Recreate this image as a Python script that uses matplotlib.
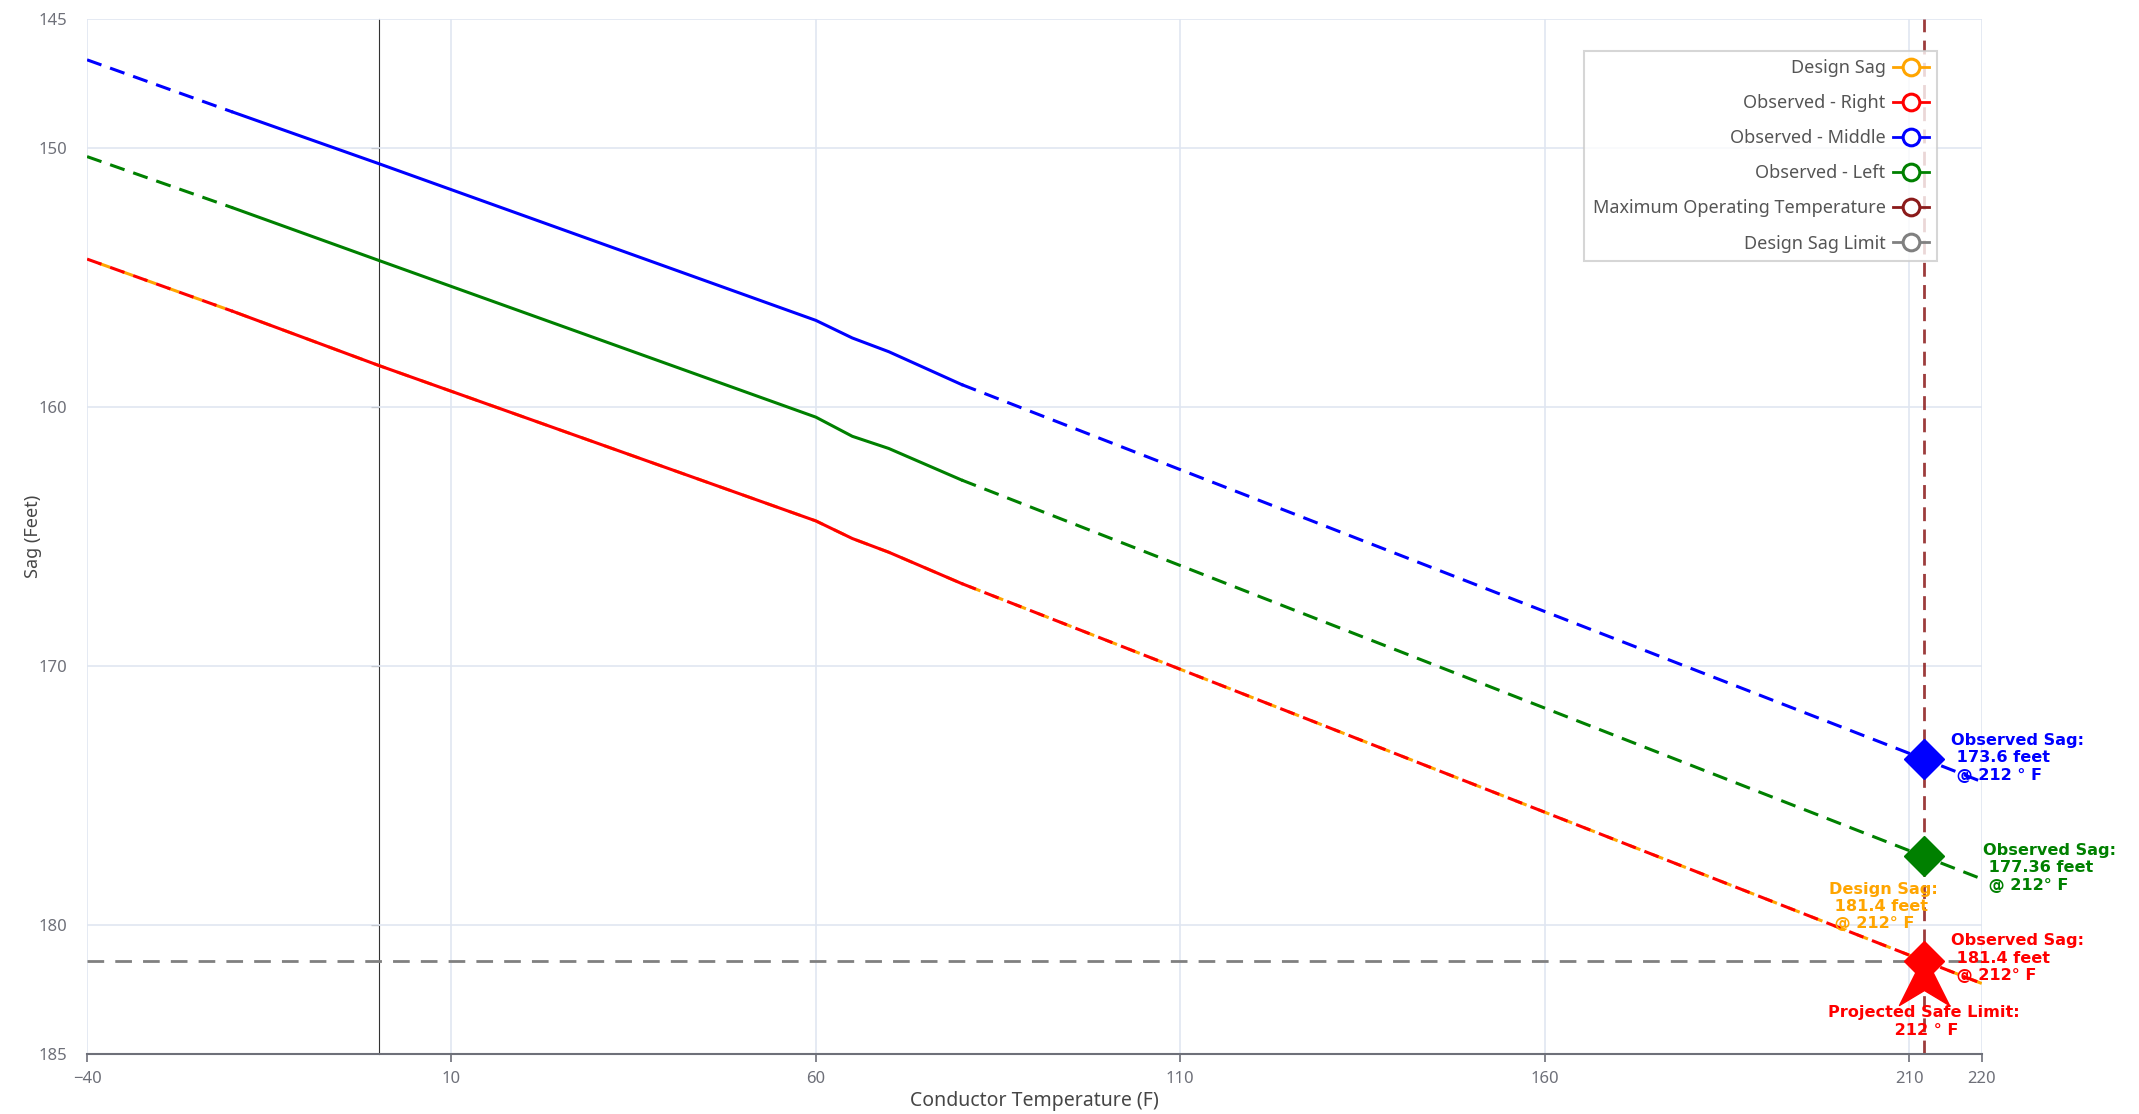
"""Conductor sag vs temperature with observed spans projected to max operating temperature."""

import matplotlib
matplotlib.use("Agg")
import matplotlib.pyplot as plt
from matplotlib.lines import Line2D
from matplotlib.path import Path

plt.rcParams["font.family"] = ["Noto Sans", "DejaVu Sans"]

# observed (solid) section
obs_temps = [-20, 0, 60, 65, 70, 80]
obs_left = [152.3, 154.33, 160.39, 161.13, 161.6, 162.82]
obs_middle = [148.6, 150.59, 156.65, 157.33, 157.86, 159.13]
obs_right = [156.3, 158.39, 164.40, 165.08, 165.61, 166.82]

# projections (dashed) below and above the observed range
low_temps = [-40, -20]
low_left = [150.32, 152.3]
low_middle = [146.58, 148.6]
low_right = [154.28, 156.3]

high_temps = [80, 212, 220]
high_left = [162.82, 177.36, 178.24]
high_middle = [159.13, 173.6, 174.48]
high_right = [166.82, 181.4, 182.28]

design_temps = [-40, -20, 0, 60, 65, 70, 80, 212, 220]
design_sag = [154.28, 156.3, 158.39, 164.40, 165.08, 165.61, 166.82, 181.4, 182.28]

max_temp = 212
sag_limit = 181.4
safe_limit_temp = 212

x_ticks = [-40, 10, 60, 110, 160, 210, 220]
y_ticks = [145, 150, 160, 170, 180, 185]

BLUE, GREEN, RED, ORANGE = "#0000ff", "#008000", "#ff0000", "#ffa500"
MAROON, GRAY = "#8b1a1a", "#808080"


def main():
    fig = plt.figure(figsize=(21.39, 11.14), dpi=100)
    ax = fig.add_axes([0.0407, 0.0539, 0.8859, 0.9291])

    ax.set_xlim(-40, 220)
    ax.set_ylim(185, 145)
    ax.set_xticks(x_ticks)
    ax.set_yticks(y_ticks)
    ax.grid(True, color="#e0e6f1", lw=1.2)
    ax.set_axisbelow(True)
    for s in ["top", "right", "left"]:
        ax.spines[s].set_visible(False)
    ax.spines["bottom"].set_color("#6e7079")
    ax.spines["bottom"].set_linewidth(1.5)
    ax.tick_params(axis="x", colors="#6e7079", labelsize=12, length=6, width=1.2, pad=6)
    ax.tick_params(axis="y", colors="#6e7079", labelsize=12, length=0, pad=14)

    # y axis line sits at temperature 0
    y0 = ax.secondary_yaxis((0 + 40) / 260)
    y0.set_yticks([150, 160, 170, 180])
    y0.set_yticklabels([])
    y0.spines["left"].set_color("#333333")
    y0.tick_params(axis="y", length=6, color="#333333")

    dash = dict(ls=(0, (5, 3)), lw=2.2)
    # design sag underneath the right-side observation
    ax.plot(design_temps, design_sag, color=ORANGE, lw=2.2, ls=(4, (4, 4)), zorder=2)

    for lo, ob, hi, c in [
        (low_middle, obs_middle, high_middle, BLUE),
        (low_left, obs_left, high_left, GREEN),
        (low_right, obs_right, high_right, RED),
    ]:
        ax.plot(low_temps, lo, color=c, zorder=3, **dash)
        ax.plot(obs_temps, ob, color=c, lw=2.2, zorder=3)
        ax.plot(high_temps, hi, color=c, zorder=3, **dash)

    ax.axhline(sag_limit, color=GRAY, lw=2, ls=(0, (6, 4)), zorder=2)
    ax.axvline(max_temp, color=MAROON, lw=2, ls=(0, (5, 3)), zorder=2, alpha=0.85)

    # markers at max operating temperature
    ax.plot([max_temp], [high_middle[1]], marker="D", ms=20, color=BLUE, zorder=5)
    ax.plot([max_temp], [high_left[1]], marker="D", ms=20, color=GREEN, zorder=5)
    arrow = Path([(0, 1), (1, -1), (0, -0.4), (-1, -1), (0, 1)],
                 [Path.MOVETO, Path.LINETO, Path.LINETO, Path.LINETO, Path.CLOSEPOLY])
    ax.plot([safe_limit_temp], [sag_limit + 0.75], marker=arrow, ms=36, color=RED, zorder=5)
    ax.plot([max_temp], [high_right[1]], marker="D", ms=20, color=RED, zorder=5)

    tk = dict(fontsize=11.6, fontweight="bold", family="DejaVu Sans", linespacing=1.2,
              va="center", zorder=6)
    ax.text(215.8, 173.55, "Observed Sag:\n 173.6 feet\n @ 212 ° F", color=BLUE, **tk)
    ax.text(220.1, 177.8, "Observed Sag:\n 177.36 feet\n @ 212° F", color=GREEN, **tk)
    ax.text(199, 179.3, "Design Sag:\n 181.4 feet\n @ 212° F", color=ORANGE, **tk)
    ax.text(215.8, 181.3, "Observed Sag:\n 181.4 feet\n @ 212° F", color=RED, **tk)
    ax.text(212, 183.75, "Projected Safe Limit:\n 212 ° F", color=RED, ha="center", **tk)

    ax.set_xlabel("Conductor Temperature (F)", fontsize=14, color="#464646")
    ax.xaxis.set_label_coords(0.5, -0.036)
    ax.set_ylabel("Sag (Feet)", fontsize=13, color="#464646")
    ax.yaxis.set_label_coords(-0.024, 0.5)

    handles = []
    labels = ["Design Sag", "Observed - Right", "Observed - Middle", "Observed - Left",
              "Maximum Operating Temperature", "Design Sag Limit"]
    for c in [ORANGE, RED, BLUE, GREEN, MAROON, GRAY]:
        handles.append(Line2D([], [], color=c, lw=2, marker="o", ms=12,
                              markerfacecolor="white", markeredgewidth=2.2))
    leg = ax.legend(handles, labels, loc="upper right", bbox_to_anchor=(0.981, 0.978),
                    markerfirst=False, fontsize=13, labelcolor="#555555", frameon=True,
                    fancybox=False, edgecolor="#cccccc", handlelength=2.0,
                    labelspacing=0.95, borderpad=0.45, handletextpad=0.4)
    leg.get_frame().set_linewidth(1.5)
    leg.set_zorder(4)

    plt.savefig("out.png", dpi=100)
    plt.close()


if __name__ == "__main__":
    main()
